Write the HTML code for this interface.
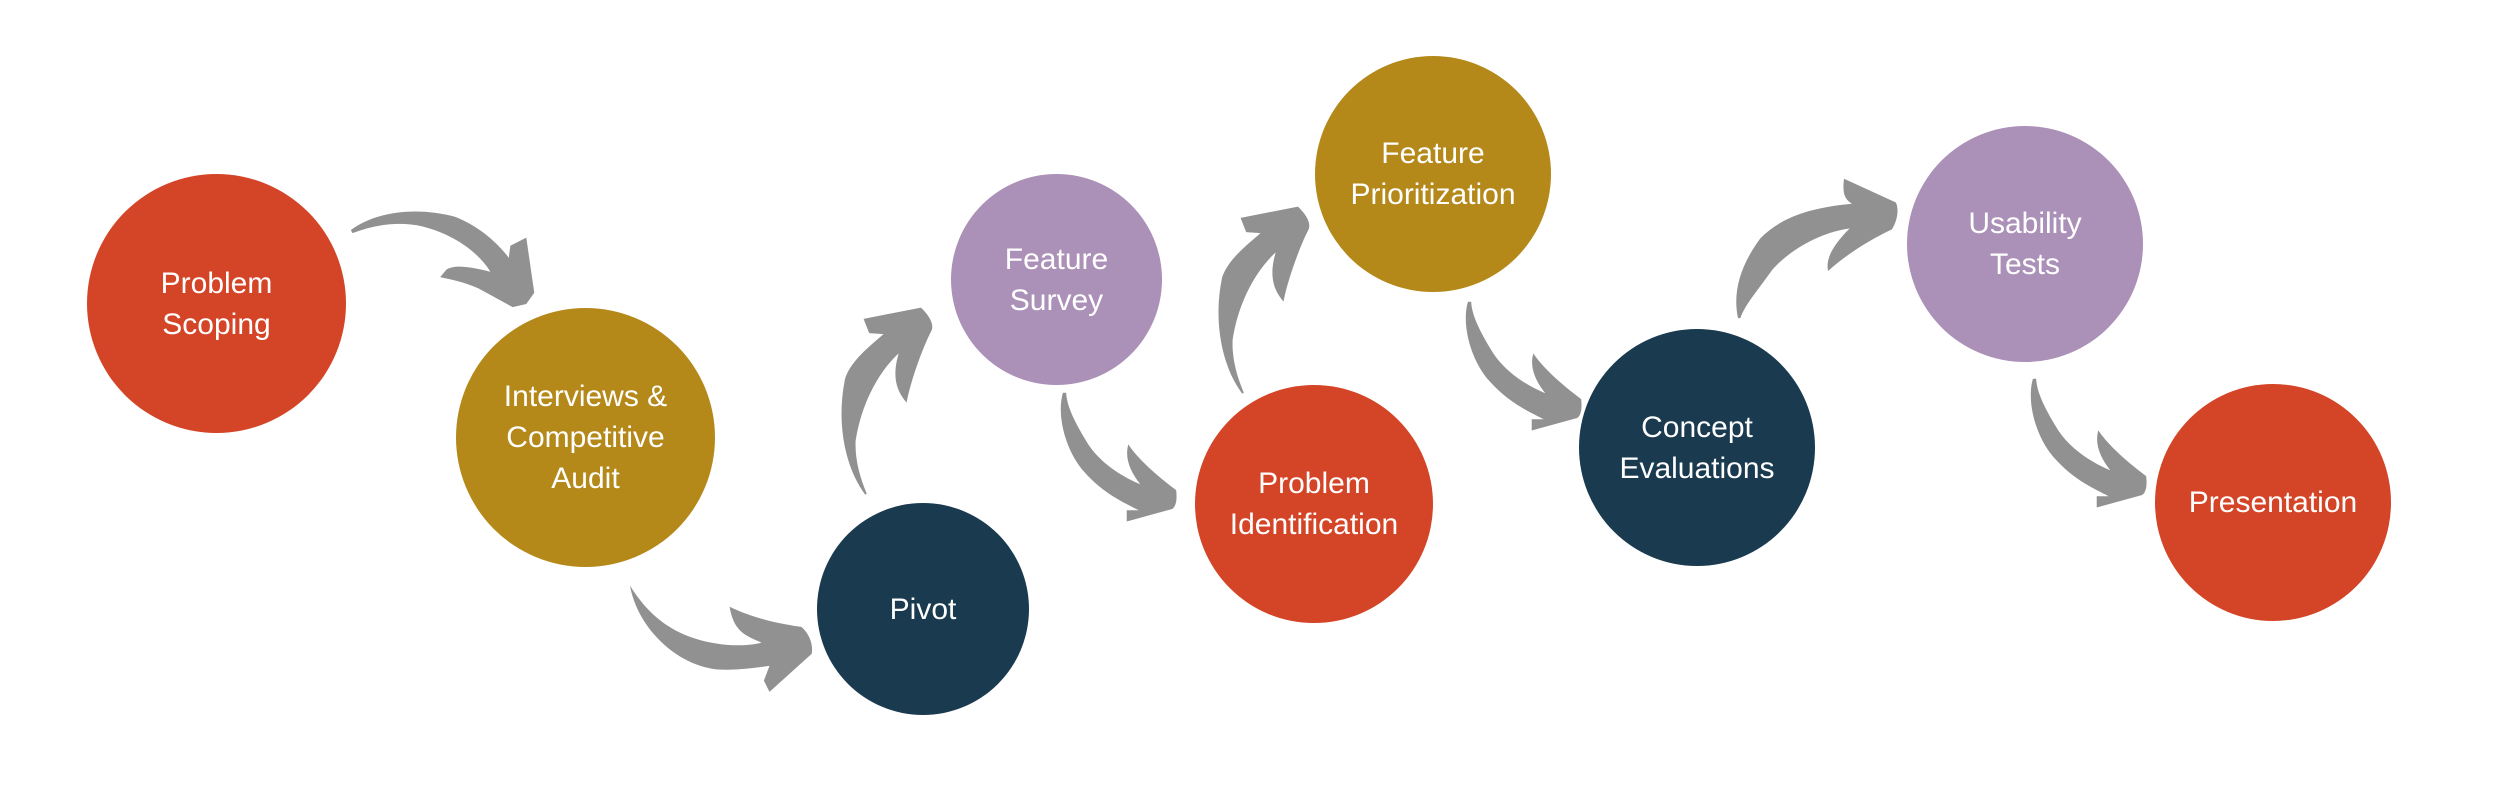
<!DOCTYPE html>
<html><head><meta charset="utf-8"><style>
html,body{margin:0;padding:0;background:#fff;}
#c{position:relative;width:2500px;height:803px;overflow:hidden;background:#fff;}
.n{position:absolute;border-radius:50%;display:flex;align-items:center;justify-content:center;text-align:center;color:#fff;font-family:"Liberation Sans",sans-serif;font-size:30px;line-height:41px;}
svg{position:absolute;left:0;top:0;}
</style></head><body><div id="c">
<svg width="2500" height="803" viewBox="0 0 2500 803">
<g fill="#919191">
<g transform="translate(0,100) scale(0.7974,0.4484)">
<path d="M440,290 C470,250 520,237 570,260 C600,280 625,320 638,352 L640,325 L660,307 L670,430 L660,455 L643,462 L600,420 C580,405 565,400 552,395 L560,378 C570,368 585,370 615,383 C600,340 570,300 530,282 C500,270 470,278 442,297 Z"/>
<path d="M790,1083 C810,1140 835,1180 870,1200 C900,1218 935,1220 955,1210 C935,1195 920,1185 915,1130 C950,1160 985,1170 1005,1175 C1015,1190 1020,1215 1018,1235 L965,1320 L958,1295 L965,1262 C940,1268 920,1272 900,1270 C850,1262 800,1180 790,1083 Z"/>
<path d="M1085,880 C1060,820 1048,720 1060,620 C1068,580 1090,550 1108,522 L1090,520 L1083,488 L1155,463 C1165,480 1172,500 1168,515 C1155,560 1140,640 1137,675 C1125,650 1118,620 1127,565 C1100,610 1080,680 1073,760 C1072,800 1078,840 1087,878 Z"/>
<path d="M1333,653 C1325,700 1335,780 1360,830 C1385,880 1410,898 1428,915 L1413,915 L1413,940 L1470,912 C1476,905 1476,885 1475,870 C1445,830 1425,795 1415,768 C1410,800 1418,830 1430,857 C1400,835 1375,800 1362,760 C1345,710 1338,680 1337,653 Z"/>
</g>
<g transform="translate(377,-101)"><g transform="translate(0,100) scale(0.7974,0.4484)">
<path d="M1085,880 C1060,820 1048,720 1060,620 C1068,580 1090,550 1108,522 L1090,520 L1083,488 L1155,463 C1165,480 1172,500 1168,515 C1155,560 1140,640 1137,675 C1125,650 1118,620 1127,565 C1100,610 1080,680 1073,760 C1072,800 1078,840 1087,878 Z"/>
</g></g>
<g transform="translate(405,-91)"><g transform="translate(0,100) scale(0.7974,0.4484)">
<path d="M1333,653 C1325,700 1335,780 1360,830 C1385,880 1410,898 1428,915 L1413,915 L1413,940 L1470,912 C1476,905 1476,885 1475,870 C1445,830 1425,795 1415,768 C1410,800 1418,830 1430,857 C1400,835 1375,800 1362,760 C1345,710 1338,680 1337,653 Z"/>
</g></g>
<g transform="translate(970,-14)"><g transform="translate(0,100) scale(0.7974,0.4484)">
<path d="M1333,653 C1325,700 1335,780 1360,830 C1385,880 1410,898 1428,915 L1413,915 L1413,940 L1470,912 C1476,905 1476,885 1475,870 C1445,830 1425,795 1415,768 C1410,800 1418,830 1430,857 C1400,835 1375,800 1362,760 C1345,710 1338,680 1337,653 Z"/>
</g></g>
<g transform="translate(1250,50) scale(0.7974,0.4484)">
<path d="M612,598 C605,540 615,480 640,420 C665,375 700,352 755,343 C748,335 742,325 745,287 L810,340 C814,355 812,380 805,400 C775,425 745,460 725,493 C722,470 728,440 752,398 C720,405 680,440 655,490 C635,540 620,570 615,598 Z"/>
</g>
</g>
</svg>
<div class="n" style="left:87px;top:174px;width:259px;height:259px;background:#d44426;">Problem<br>Scoping</div>
<div class="n" style="left:456px;top:308px;width:259px;height:259px;background:#b4891a;">Interviews &amp;<br>Competitive<br>Audit</div>
<div class="n" style="left:817px;top:503px;width:212px;height:212px;background:#1a3a50;">Pivot</div>
<div class="n" style="left:951px;top:174px;width:211px;height:211px;background:#ab90b8;">Feature<br>Survey</div>
<div class="n" style="left:1195px;top:385px;width:238px;height:238px;background:#d44426;">Problem<br>Identification</div>
<div class="n" style="left:1315px;top:56px;width:236px;height:236px;background:#b4891a;">Feature<br>Prioritization</div>
<div class="n" style="left:1579px;top:329px;width:236px;height:237px;background:#1a3a50;">Concept<br>Evaluations</div>
<div class="n" style="left:1907px;top:126px;width:236px;height:236px;background:#ab90b8;">Usability<br>Tests</div>
<div class="n" style="left:2155px;top:384px;width:236px;height:237px;background:#d44426;">Presentation</div>
</div></body></html>
